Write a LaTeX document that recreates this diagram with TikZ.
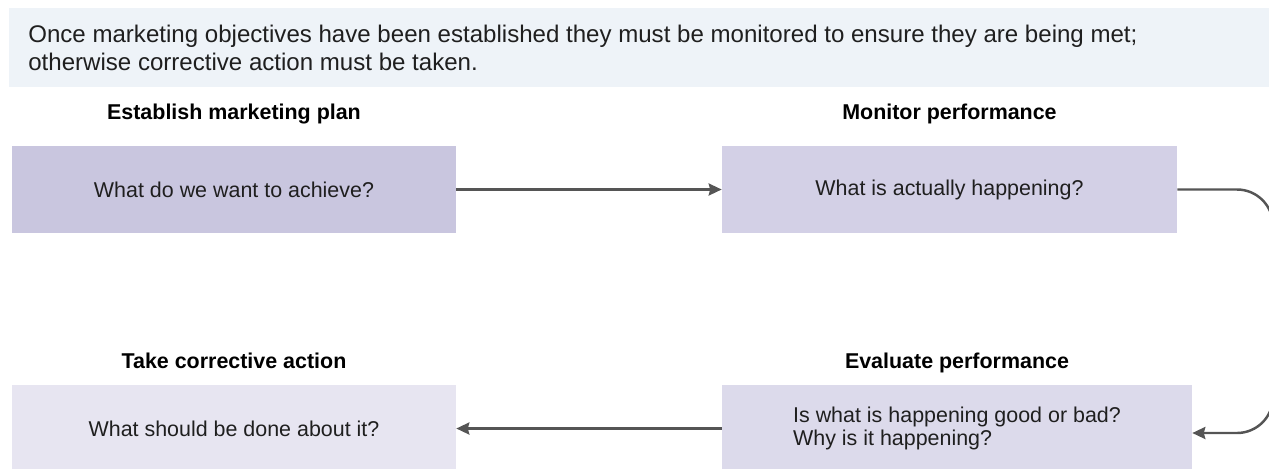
\documentclass[tikz,border=0pt]{standalone}
\usepackage{fontspec}
\setmainfont{Liberation Sans}
\usetikzlibrary{positioning,arrows.meta}
\definecolor{introbg}{HTML}{EEF3F8}
\definecolor{planbg}{HTML}{C9C6DF}
\definecolor{monitorbg}{HTML}{D3D0E6}
\definecolor{evalbg}{HTML}{DCDAEB}
\definecolor{fixbg}{HTML}{E7E5F1}
\definecolor{linegray}{HTML}{555555}
\tikzset{
  stage/.style={minimum height=1.74cm, inner sep=0pt, text=black!88,
                font=\fontsize{12.2}{13.1}\selectfont},
  head/.style={inner sep=0pt, font=\bfseries\fontsize{12.2}{14}\selectfont},
  flow/.style={draw=linegray, line width=1.4pt,
               -{Stealth[length=0.26cm,width=0.24cm,inset=0.03cm]}}
}
\def\flow{\draw[flow]}

\begin{document}
\begin{tikzpicture}[x=0.02cm,y=-0.02cm]
  \clip (0,0) rectangle (1269,468);
  \fill[introbg] (9,8) rectangle (1269,87);
  \node[anchor=west, align=left, inner sep=0pt, text=black!88,
        font=\fontsize{13.7}{16}\selectfont] (intro) at (28,48)
    {Once marketing objectives have been established they must be monitored to ensure they are being met;\\
     otherwise corrective action must be taken.};

  \node[stage, fill=planbg,    minimum width=8.88cm] (plan)     at (234,189.5)   {What do we want to achieve?};
  \node[stage, fill=monitorbg, minimum width=9.10cm] (monitor)  at (949.5,189.5) {What is actually happening?};
  \node[stage, fill=fixbg,     minimum width=8.88cm] (correct)  at (234,428.5)   {What should be done about it?};
  \node[stage, fill=evalbg,    minimum width=9.40cm, align=left] (evaluate) at (957,428.5)
    {Is what is happening good or bad?\\Why is it happening?};

  \node[head, above=0.52cm of plan,     anchor=base] (plantitle)     {Establish marketing plan};
  \node[head, above=0.52cm of monitor,  anchor=base] (monitortitle)  {Monitor performance};
  \node[head, above=0.32cm of correct,  anchor=base] (correcttitle)  {Take corrective action};
  \node[head, above=0.32cm of evaluate, anchor=base] (evaluatetitle) {Evaluate performance};

  \coordinate (bend) at (1273,189.5);
  \flow (plan) -- (monitor);
  \flow (evaluate) -- (correct);
  \flow[rounded corners=0.72cm] (monitor.east) -- (bend) |- ([yshift=-0.09cm]evaluate.east);
\end{tikzpicture}
\end{document}
